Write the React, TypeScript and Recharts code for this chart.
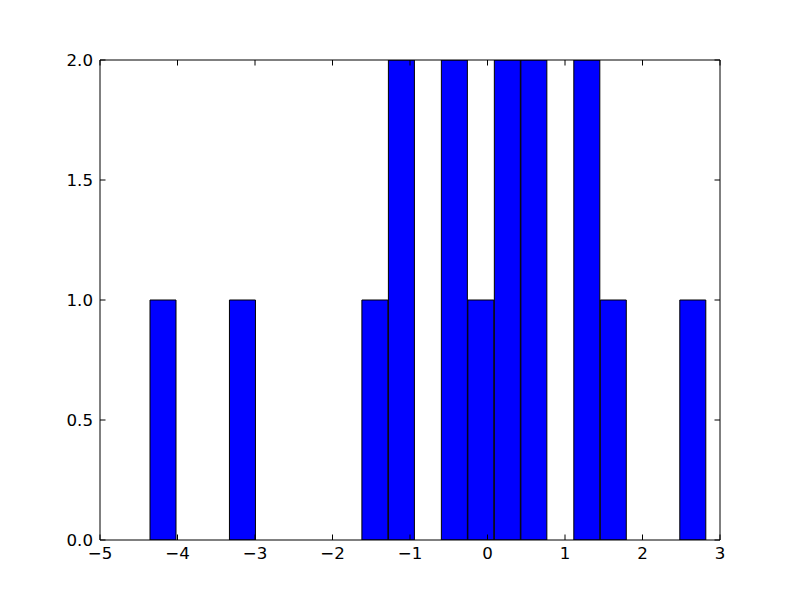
import React from 'react';
import { ComposedChart, Bar, XAxis, YAxis } from 'recharts';

// histogram bins (21 bins, width ~0.342)
const binEdges = [
  -4.355, -4.013, -3.671, -3.33, -2.988, -2.646, -2.304, -1.962, -1.621, -1.279, -0.937,
  -0.595, -0.254, 0.088, 0.43, 0.772, 1.114, 1.455, 1.797, 2.139, 2.481, 2.823,
];
const binCounts = [1, 0, 0, 1, 0, 0, 0, 0, 1, 2, 0, 2, 1, 2, 2, 0, 2, 1, 0, 0, 1];

const xTicks = [-5, -4, -3, -2, -1, 0, 1, 2, 3];
const yTicks = [0, 0.5, 1, 1.5, 2];

const data = binCounts.map((count, i) => ({
  center: (binEdges[i] + binEdges[i + 1]) / 2,
  count,
}));

const FONT = 'DejaVu Sans, sans-serif';
const FS = 16.67;
const TICK = 5.5;

// plot box (matplotlib default subplot params on 800x600)
const margin = { top: 59, right: 79, bottom: 59, left: 99 };
const PLOT_W = 620;
const PLOT_H = 480;

const fmtX = (v: number) => (v < 0 ? '\u2212' + Math.abs(v) : String(v));

// inward ticks on bottom + mirrored on top
const BottomTick = (props: any) => {
  const { x, y, payload } = props;
  return (
    <g>
      <line x1={x} x2={x} y1={y} y2={y - TICK} stroke="#000" strokeWidth={1} />
      <line x1={x} x2={x} y1={y - PLOT_H} y2={y - PLOT_H + TICK} stroke="#000" strokeWidth={1} />
      <text x={x} y={y + 18.5} textAnchor="middle" fontFamily={FONT} fontSize={FS} fill="#000">
        {fmtX(payload.value)}
      </text>
    </g>
  );
};

// inward ticks on left + mirrored on right
const LeftTick = (props: any) => {
  const { x, y, payload } = props;
  return (
    <g>
      <line x1={x} x2={x + TICK} y1={y} y2={y} stroke="#000" strokeWidth={1} />
      <line x1={x + PLOT_W} x2={x + PLOT_W - TICK} y1={y} y2={y} stroke="#000" strokeWidth={1} />
      <text x={x - 7} y={y + 6} textAnchor="end" fontFamily={FONT} fontSize={FS} fill="#000">
        {payload.value.toFixed(1)}
      </text>
    </g>
  );
};

const axisLine = { stroke: '#000', strokeWidth: 1 };

export default function App() {
  return (
    <div style={{ position: 'absolute', left: 0, top: 0, width: 800, height: 600, background: '#fff' }}>
      <ComposedChart
        width={800}
        height={600}
        data={data}
        margin={margin}
        barCategoryGap={0}
        barGap={0}
      >
        <XAxis
          xAxisId="b"
          dataKey="center"
          type="number"
          domain={[-5, 3]}
          ticks={xTicks}
          allowDataOverflow
          height={1}
          tickSize={0}
          tickMargin={0}
          tickLine={false}
          tick={<BottomTick />}
          axisLine={axisLine}
          interval={0}
        />
        <XAxis xAxisId="t" orientation="top" height={1} tick={false} tickLine={false} axisLine={axisLine} />
        <YAxis
          yAxisId="l"
          type="number"
          domain={[0, 2]}
          ticks={yTicks}
          allowDataOverflow
          width={1}
          tickSize={0}
          tickMargin={0}
          tickLine={false}
          tick={<LeftTick />}
          axisLine={axisLine}
          interval={0}
        />
        <YAxis yAxisId="r" orientation="right" width={1} tick={false} tickLine={false} axisLine={axisLine} />
        <Bar
          xAxisId="b"
          yAxisId="l"
          dataKey="count"
          fill="#0000ff"
          stroke="#000"
          strokeWidth={1}
          isAnimationActive={false}
        />
      </ComposedChart>
    </div>
  );
}
